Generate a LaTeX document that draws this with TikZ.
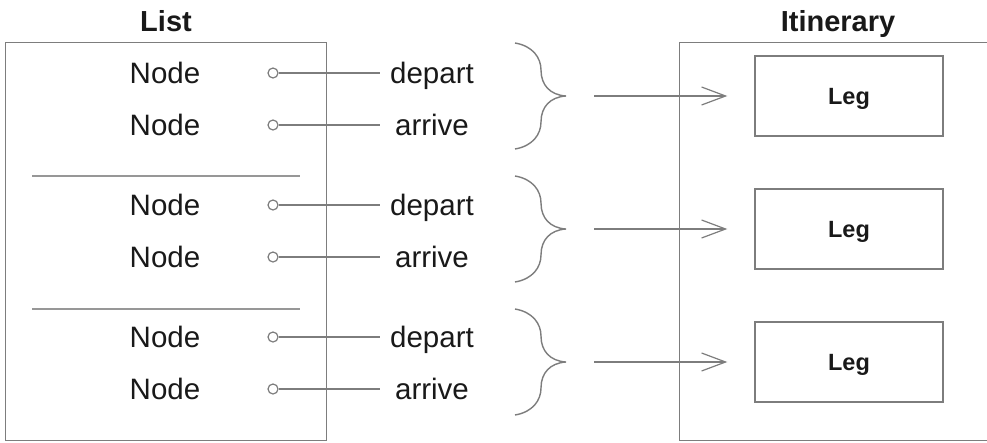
\documentclass[tikz,border=0pt]{standalone}
\usepackage{fontspec}
\setmainfont{Liberation Sans}
\usepackage{xcolor}
\definecolor{lngrey}{RGB}{125,125,125}
\definecolor{txtdark}{RGB}{25,25,25}
\usetikzlibrary{arrows.meta,positioning}
\tikzset{
  panel/.style={draw=lngrey, line width=1.4pt, anchor=north west, inner sep=0pt},
  title/.style={font=\fontsize{29}{34}\selectfont\bfseries, text=txtdark, text height=21pt, text depth=0pt, inner sep=0pt},
  item/.style={font=\fontsize{29.5}{34}\selectfont, text=txtdark, text height=21pt, text depth=0pt, inner sep=0pt, minimum width=104pt},
  pin/.style={circle, draw=lngrey, fill=white, line width=1.2pt, minimum size=10pt, inner sep=0pt},
  wire/.style={draw=lngrey, line width=1.3pt},
  sep/.style={draw=lngrey!80, line width=1.3pt},
  brc/.style={draw=lngrey, line width=1.4pt},
  legbox/.style={draw=lngrey, line width=1.4pt, minimum width=188pt, minimum height=80pt, inner sep=0pt,
    font=\fontsize{23.5}{28}\selectfont\bfseries, text=txtdark, text height=17pt, text depth=0pt},
  arr/.style={-{Straight Barb[length=24pt, width=18pt, line width=1.2pt]}, draw=lngrey, line width=1.2pt}
}

\begin{document}
\begin{tikzpicture}[x=1pt, y=-1pt]
  \useasboundingbox (0,0) rectangle (987,442);
  \clip (0,0) rectangle (987,442);
  % the two panels
  \node[panel, minimum width=321pt, minimum height=398pt] (list) at (5,42) {};
  \node[panel, minimum width=340pt, minimum height=398pt] (itin) at (679,42) {};
  \node[title] (listT) at (166,21) {List};
  \node[title] (itinT) at (838,21) {Itinerary};
  % separators inside the list
  \foreach \g in {0,1}
    \draw[sep] (32,176+133*\g) -- (300,176+133*\g);
  % rows, braces and legs
  \foreach \g in {0,1,2} {
    \node[item] (nd\g) at (165,73+132*\g) {Node};
    \node[item] (na\g) at (165,125+132*\g) {Node};
    \node[pin] (pd\g) at (273,73+132*\g) {};
    \node[pin] (pa\g) at (273,125+132*\g) {};
    \node[item] (dep\g) at (432,73+132*\g) {depart};
    \node[item] (arr\g) at (432,125+132*\g) {arrive};
    \draw[wire] (pd\g) -- (dep\g.west);
    \draw[wire] (pa\g) -- (arr\g.west);
    \coordinate (br\g) at (566,96+133*\g);
    \begin{scope}[shift={(br\g)}]
      \draw[brc] (-51,-53) .. controls (-33,-50) and (-25,-38) .. (-25,-26)
        .. controls (-25,-11) and (-16,-1) .. (0,0)
        .. controls (-16,1) and (-25,11) .. (-25,26)
        .. controls (-25,38) and (-33,50) .. (-51,53);
    \end{scope}
    \node[legbox] (leg\g) at (849,96+133*\g) {Leg};
    \draw[arr, shorten <=28pt, shorten >=27pt] (br\g) -- (leg\g.west);
  }
\end{tikzpicture}
\end{document}
